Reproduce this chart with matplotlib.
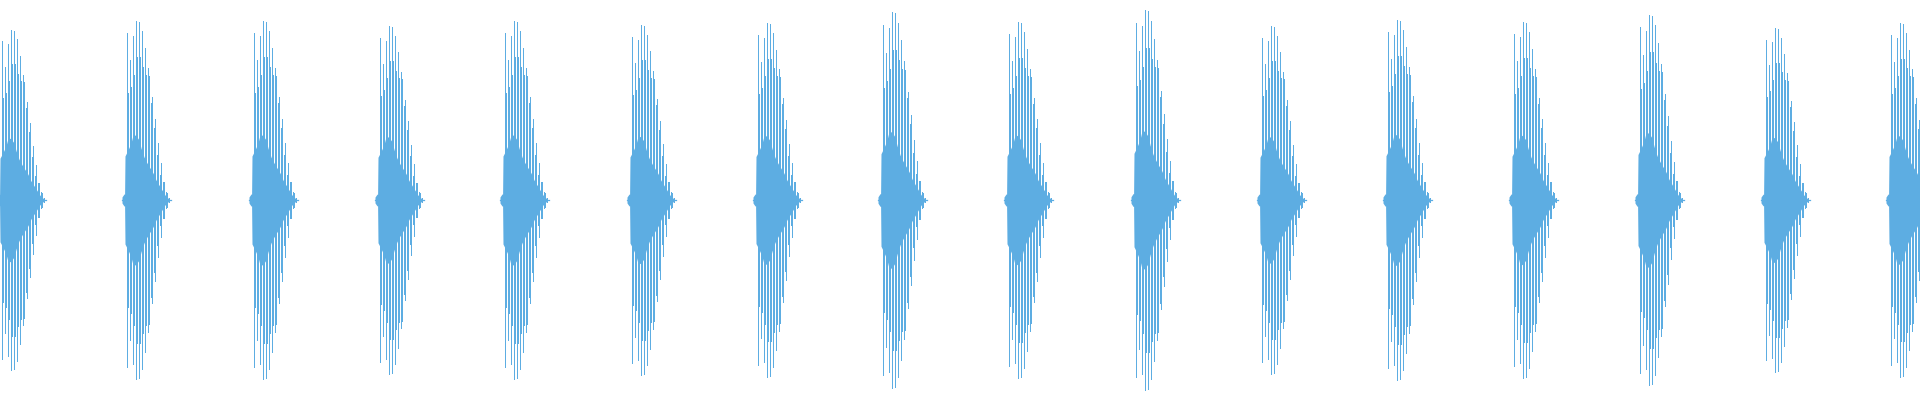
import matplotlib
matplotlib.use("Agg")
import matplotlib.pyplot as plt
import numpy as np

# Burst onsets (time units) and peak amplitude of each burst
burst_onsets = [-3, 122, 249, 375, 500, 627, 753, 878, 1004, 1131, 1257, 1383, 1509, 1635, 1761, 1886]
burst_peaks = [170, 179, 179, 174, 179, 175, 177, 188, 178, 190, 174, 180, 178, 185, 172, 177]

# Template burst (read from burst 2, peak 179): oscillation peaks
template_peak = 179
spike_offsets = [4, 5, 7, 8, 10, 11, 13, 14, 16, 17, 19, 20, 22, 23, 25, 26,
                 28, 29, 31, 32, 34, 35, 37, 38, 40, 41, 43, 44, 46]
spike_amps = [167, 107, 140, 113, 164, 125, 179, 143, 178, 143, 169, 133, 152, 125, 132, 124,
              97, 103, 72, 81, 45, 57, 25, 37, 18, 18, 8, 7, 2]

# Template dense core envelope
core_offsets = [0, 2, 2.6, 3, 6, 9, 11, 13, 15, 17, 19, 22, 25, 28, 31, 34, 37, 40, 43, 46, 48]
core_amps = [3, 6, 6, 44, 50, 57, 65, 65, 63, 60, 52, 43, 37, 32, 27, 20, 15, 10, 5, 2, 0]

color = "#5DADE2"

fig = plt.figure(figsize=(19.2, 4.0), dpi=100)
ax = fig.add_axes([0, 0, 1, 1])
ax.set_xlim(0, 1920)
ax.set_ylim(-200, 200)
ax.axis("off")

so = np.array(spike_offsets, dtype=float)
sa = np.array(spike_amps, dtype=float)
co = np.array(core_offsets, dtype=float)
ca = np.array(core_amps, dtype=float)

for onset, peak in zip(burst_onsets, burst_peaks):
    g = peak / template_peak
    xs = onset + so + 0.5
    ax.vlines(xs, -sa * g, sa * g, colors=color, linewidth=0.5, antialiased=False)
    xc = onset + co
    ax.fill_between(xc, -ca * g, ca * g, color=color, linewidth=0)
    # centre line stub
    ax.plot([onset, onset + 49], [0, 0], color=color, linewidth=0.9)

fig.savefig("out.png", dpi=100, facecolor="white")
